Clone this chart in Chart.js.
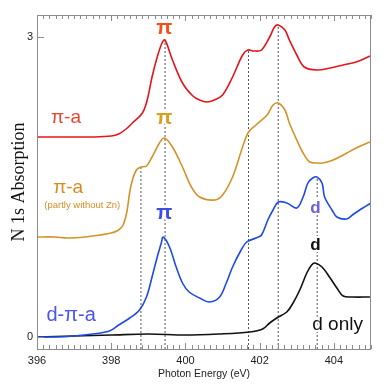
<!DOCTYPE html>
<html>
<head>
<meta charset="utf-8">
<script src="https://cdn.jsdelivr.net/npm/chart.js@4/dist/chart.umd.min.js"></script>
<style>
  html, body { margin: 0; padding: 0; background: #fff; }
  canvas { display: block; }
</style>
</head>
<body>
<canvas id="grafica" width="391" height="391"></canvas>
<script>
// espectros N 1s (energia en eV, absorcion desplazada)
const redE = [396.0, 396.5, 397.0, 397.5, 398.0, 398.2, 398.4, 398.57, 398.84, 398.97, 399.1, 399.24, 399.38, 399.45, 399.65, 399.92, 400.2, 400.38, 400.57, 400.78, 401.0, 401.27, 401.54, 401.68, 401.85, 402.05, 402.27, 402.4, 402.5, 402.68, 402.8, 403.0, 403.2, 403.54, 403.9, 404.25, 404.6, 404.97];
const redY = [2.00, 2.00, 2.00, 2.00, 2.01, 2.03, 2.08, 2.14, 2.24, 2.37, 2.60, 2.80, 2.95, 2.97, 2.77, 2.54, 2.41, 2.37, 2.35, 2.37, 2.42, 2.60, 2.82, 2.87, 2.86, 2.87, 3.00, 3.10, 3.12, 3.07, 2.97, 2.82, 2.70, 2.67, 2.69, 2.72, 2.75, 2.81];

const orangeE = [396.0, 396.5, 396.8, 397.3, 397.7, 398.0, 398.2, 398.32, 398.42, 398.5, 398.57, 398.68, 398.8, 398.95, 399.1, 399.3, 399.43, 399.65, 399.92, 400.16, 400.38, 400.8, 401.0, 401.27, 401.54, 401.7, 401.9, 402.2, 402.36, 402.5, 402.68, 402.8, 403.0, 403.17, 403.35, 403.54, 403.7, 403.98, 404.35, 404.6, 404.97];
const orangeY = [1.00, 1.00, 0.99, 1.00, 1.02, 1.04, 1.07, 1.12, 1.25, 1.45, 1.57, 1.67, 1.70, 1.71, 1.80, 1.94, 1.99, 1.90, 1.70, 1.50, 1.40, 1.37, 1.42, 1.60, 1.90, 2.05, 2.12, 2.22, 2.32, 2.34, 2.27, 2.14, 1.97, 1.84, 1.75, 1.74, 1.74, 1.77, 1.84, 1.89, 1.95];

const blueE = [396.0, 396.5, 397.0, 397.5, 397.95, 398.2, 398.5, 398.76, 398.95, 399.1, 399.24, 399.35, 399.4, 399.57, 399.75, 399.92, 400.1, 400.38, 400.65, 400.92, 401.1, 401.27, 401.5, 401.65, 401.9, 402.05, 402.22, 402.36, 402.5, 402.73, 403.0, 403.17, 403.3, 403.43, 403.54, 403.68, 403.75, 403.95, 404.08, 404.35, 404.5, 404.78, 405.0];
const blueY = [0.00, 0.00, 0.01, 0.03, 0.06, 0.12, 0.19, 0.27, 0.40, 0.60, 0.80, 0.94, 1.00, 0.90, 0.70, 0.54, 0.45, 0.39, 0.35, 0.40, 0.54, 0.70, 0.87, 0.95, 0.99, 1.02, 1.17, 1.27, 1.35, 1.34, 1.29, 1.40, 1.54, 1.59, 1.60, 1.54, 1.40, 1.27, 1.20, 1.18, 1.22, 1.29, 1.34];

const blackE = [396.0, 397.0, 398.0, 399.0, 400.0, 400.9, 401.73, 402.08, 402.27, 402.46, 402.73, 402.9, 403.08, 403.27, 403.4, 403.49, 403.68, 403.9, 404.08, 404.25, 404.5, 404.97];
const blackY = [0.00, 0.01, 0.02, 0.03, 0.02, 0.03, 0.05, 0.08, 0.14, 0.19, 0.25, 0.34, 0.47, 0.64, 0.72, 0.74, 0.70, 0.59, 0.49, 0.41, 0.40, 0.40];

// lineas punteadas verticales (energia y hasta donde suben)
const marcaE = [398.8, 399.45, 401.7, 402.5, 403.55];
const marcaTop = [1.70, 2.97, 2.86, 3.12, 1.60];

const xTickLabels = [396, 398, 400, 402, 404];
const yTickLabels = [0, 3];

function puntos(xs, ys) {
    return xs.map((x, i) => ({ x: x, y: ys[i] }));
}

const datasets = [
    { data: puntos(redE, redY), borderColor: '#e3161e' },
    { data: puntos(orangeE, orangeY), borderColor: '#d4932a' },
    { data: puntos(blueE, blueY), borderColor: '#1f4be4' },
    { data: puntos(blackE, blackY), borderColor: '#111111' }
].map(d => Object.assign(d, { showLine: true, pointRadius: 0, borderWidth: 1.6, tension: 0.35, order: 1 }));

marcaE.forEach((e, i) => {
    datasets.push({
        data: [{ x: e, y: -0.12 }, { x: e, y: marcaTop[i] }],
        showLine: true, pointRadius: 0, borderWidth: 1, borderColor: '#555',
        borderDash: [2, 2], order: 10
    });
});

// textos sobre la grafica (en coordenadas de datos)
const etiquetas = [
    { t: 'π', x: 399.43, y: 3.09, c: '#f0501a', f: 'bold 21px "Liberation Sans"', halo: false },
    { t: 'π-a', x: 396.78, y: 2.19, c: '#e8452e', f: '19px "Liberation Sans"', halo: false },
    { t: 'π', x: 399.43, y: 2.19, c: '#d8a01c', f: 'bold 21px "Liberation Sans"', halo: true },
    { t: 'π-a', x: 396.84, y: 1.49, c: '#d48c22', f: '19px "Liberation Sans"', halo: false },
    { t: '(partly without Zn)', x: 397.22, y: 1.32, c: '#d48c22', f: '9.5px "Liberation Sans"', halo: false },
    { t: 'π', x: 399.43, y: 1.24, c: '#3a4ee6', f: 'bold 21px "Liberation Sans"', halo: true },
    { t: 'd-π-a', x: 396.92, y: 0.22, c: '#4b55e6', f: '20px "Liberation Sans"', halo: false },
    { t: 'd', x: 403.5, y: 1.29, c: '#6b5fe2', f: 'bold 17px "Liberation Sans"', halo: true },
    { t: 'd', x: 403.5, y: 0.92, c: '#111', f: 'bold 17px "Liberation Sans"', halo: true },
    { t: 'd only', x: 404.1, y: 0.12, c: '#111', f: '19px "Liberation Sans"', halo: true }
];

const marco = {
    id: 'marco',
    afterDatasetsDraw(chart) {
        const ctx = chart.ctx;
        const a = chart.chartArea;
        const sx = chart.scales.x, sy = chart.scales.y;
        ctx.save();
        ctx.strokeStyle = '#8c8c8c';
        ctx.lineWidth = 1;
        ctx.strokeRect(a.left + 0.5, a.top + 0.5, a.right - a.left - 1, a.bottom - a.top);
        // marcas menores hacia dentro, arriba y abajo
        ctx.beginPath();
        for (let k = 0; k <= 54; k++) {
            const v = 396 + k / 6;
            const px = Math.round(sx.getPixelForValue(v)) + 0.5;
            const largo = (k % 12 === 0) ? 6 : 4;
            ctx.moveTo(px, a.bottom); ctx.lineTo(px, a.bottom - largo);
            ctx.moveTo(px, a.top); ctx.lineTo(px, a.top + largo);
        }
        yTickLabels.forEach(v => {
            const py = Math.round(sy.getPixelForValue(v)) + 0.5;
            ctx.moveTo(a.left, py); ctx.lineTo(a.left + 7, py);
        });
        ctx.stroke();
        // etiquetas
        ctx.textAlign = 'center';
        ctx.textBaseline = 'middle';
        etiquetas.forEach(e => {
            const px = sx.getPixelForValue(e.x), py = sy.getPixelForValue(e.y);
            ctx.font = e.f;
            if (e.halo) {
                ctx.strokeStyle = '#fff';
                ctx.lineWidth = 4;
                ctx.strokeText(e.t, px, py);
            }
            ctx.fillStyle = e.c;
            ctx.fillText(e.t, px, py);
        });
        ctx.restore();
    }
};

new Chart(document.getElementById('grafica').getContext('2d'), {
    type: 'scatter',
    data: { datasets: datasets },
    plugins: [marco],
    options: {
        responsive: false,
        animation: false,
        layout: { padding: { top: 15, right: 20, left: 0, bottom: 0 } },
        plugins: { legend: { display: false }, tooltip: { enabled: false } },
        scales: {
            x: {
                type: 'linear', min: 396, max: 405,
                afterBuildTicks: s => { s.ticks = xTickLabels.map(v => ({ value: v })); },
                afterFit: s => { s.height = 42; },
                grid: { display: false, drawTicks: false },
                border: { display: false },
                ticks: { font: { family: 'Liberation Sans', size: 11 }, color: '#222', padding: 5, maxRotation: 0, autoSkip: false },
                title: { display: true, text: 'Photon Energy (eV)', font: { family: 'Liberation Sans', size: 10.5 }, color: '#222', padding: { top: 0, bottom: 11 } }
            },
            y: {
                type: 'linear', min: -0.12, max: 3.22,
                afterBuildTicks: s => { s.ticks = yTickLabels.map(v => ({ value: v })); },
                afterFit: s => { s.width = 37; },
                grid: { display: false, drawTicks: false },
                border: { display: false },
                ticks: { font: { family: 'Liberation Sans', size: 11 }, color: '#222', padding: 4 },
                title: { display: true, text: 'N 1s Absorption', font: { family: 'Liberation Serif', size: 18 }, color: '#111', padding: { top: 8, bottom: 0 } }
            }
        }
    }
});
</script>
</body>
</html>
